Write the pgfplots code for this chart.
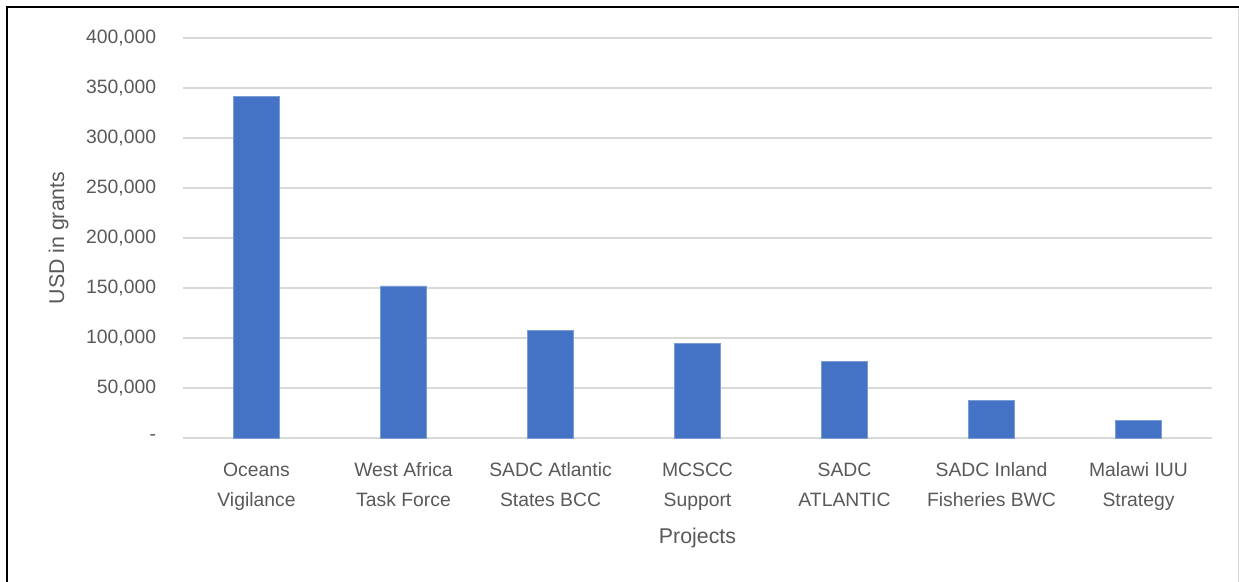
\documentclass[border=0pt]{standalone}
\usepackage{pgfplots}
\pgfplotsset{compat=1.18}
\usepackage{fontspec}
\setmainfont{Liberation Sans}

\definecolor{barblue}{HTML}{4472C4}
\definecolor{txtgray}{HTML}{595959}
\definecolor{gridgray}{HTML}{D9D9D9}

\begin{document}
\begin{tikzpicture}
% page is 1239 x 582 px, 1 px = 0.75 pt
\useasboundingbox (0,0) rectangle (929.25pt,436.5pt);
\fill[white] (0,0) rectangle (929.25pt,436.5pt);

\begin{axis}[
	at={(137.25pt,108pt)},
	anchor=south west,
	scale only axis,
	width=771.75pt,
	height=300pt,
	ybar,
	bar width=34.5pt,
	xmin=-0.5, xmax=6.5,
	ymin=0, ymax=400000,
	scaled y ticks=false,
	xtick=data,
	xticklabels={{Oceans\\Vigilance},{West Africa\\Task Force},{SADC Atlantic\\States BCC},{MCSCC\\Support},{SADC\\ATLANTIC},{SADC Inland\\Fisheries BWC},{Malawi IUU\\Strategy}},
	ytick={0,50000,100000,150000,200000,250000,300000,350000,400000},
	yticklabels={{-\hspace{6pt}},{50,000},{100,000},{150,000},{200,000},{250,000},{300,000},{350,000},{400,000}},
	axis line style={draw=none},
	tick style={draw=none},
	ymajorgrids=true,
	grid style={gridgray, line width=1.2pt},
	xticklabel style={align=center, text=txtgray, inner sep=0pt, anchor=north, yshift=-14pt,
		font={\fontsize{14.5}{22.5}\selectfont}},
	yticklabel style={text=txtgray, inner sep=0pt, anchor=east, xshift=-20pt,
		font={\fontsize{14.5}{17}\selectfont}},
	xlabel={Projects},
	ylabel={USD in grants},
	every axis x label/.style={at={(axis description cs:0.5,-0.25)}, anchor=center,
		text=txtgray, font={\fontsize{16}{19}\selectfont}},
	every axis y label/.style={at={(axis description cs:-0.121,0.5)}, anchor=center, rotate=90,
		text=txtgray, font={\fontsize{16}{19}\selectfont}},
	]
	\addplot[fill=barblue, draw=barblue!70!white, line width=0.4pt] coordinates {
		(0,341400)
		(1,152000)
		(2,107300)
		(3,94700)
		(4,76700)
		(5,37300)
		(6,18000)};
\end{axis}

% chart frame
\draw[black, line width=1.6pt] (5.25pt,0) -- (5.25pt,431.25pt) -- (929.25pt,431.25pt);
\draw[gridgray, line width=0.75pt] (928.5pt,0) -- (928.5pt,430pt);
\end{tikzpicture}
\end{document}
